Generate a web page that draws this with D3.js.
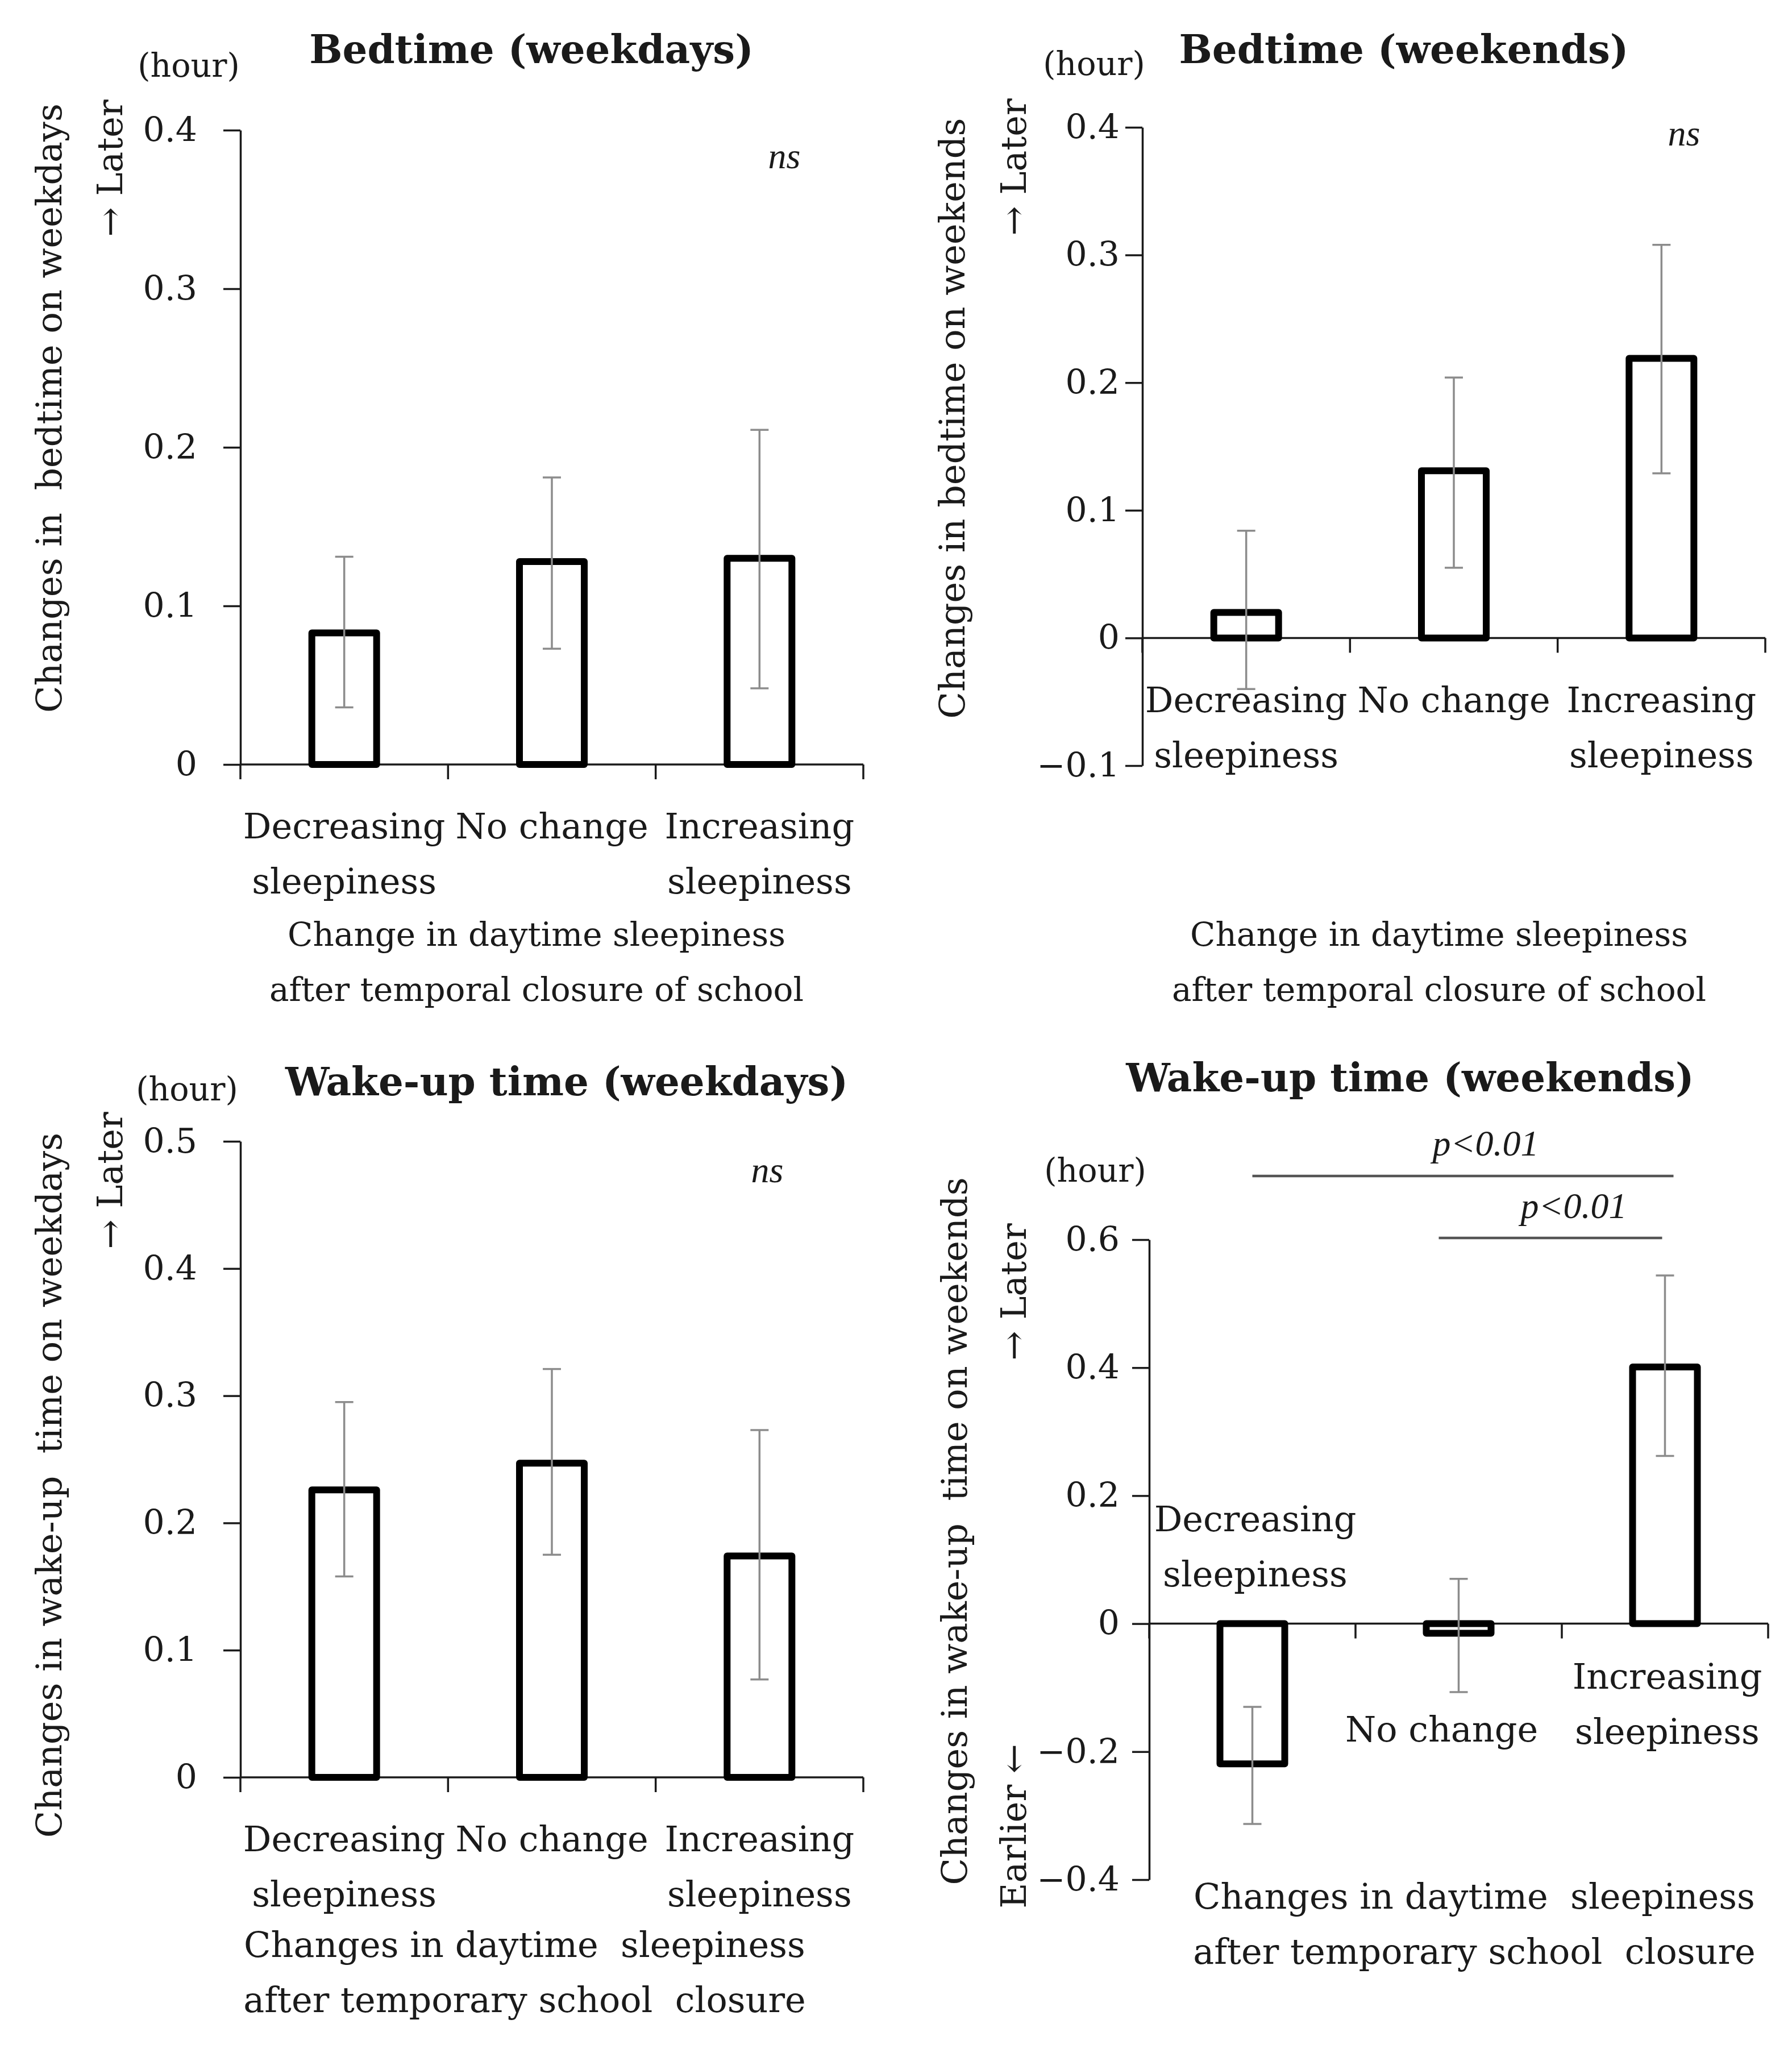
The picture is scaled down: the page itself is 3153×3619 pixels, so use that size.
<!DOCTYPE html>
<html>
<head>
<meta charset="utf-8">
<script src="https://cdn.jsdelivr.net/npm/d3@7"></script>
<style>
  body { margin: 0; background: #fff; }
  svg text { font-family: "DejaVu Serif", serif; fill: #1a1a1a; white-space: pre; }
  .title { font-weight: bold; font-size: 69px; }
  .hour { font-size: 57px; }
  .lab { font-size: 62px; }
  .xt { font-size: 58px; }
  .tick text { font-size: 60px; font-family: "DejaVu Serif", serif; }
  .ital { font-family: "Liberation Serif", serif; font-style: italic; font-size: 64px; }
</style>
</head>
<body>
<div id="chart"></div>
<script>
// ===============Data
var categories = ["Decreasing sleepiness", "No change", "Increasing sleepiness"];
var categoryLines = [["Decreasing", "sleepiness"], ["No change"], ["Increasing", "sleepiness"]];

var bedWeekdayMean = [0.083, 0.128, 0.130];
var bedWeekdayLow  = [0.036, 0.073, 0.048];
var bedWeekdayHigh = [0.131, 0.181, 0.211];

var bedWeekendMean = [0.020, 0.131, 0.219];
var bedWeekendLow  = [-0.040, 0.055, 0.129];
var bedWeekendHigh = [0.084, 0.204, 0.308];

var wakeWeekdayMean = [0.226, 0.247, 0.174];
var wakeWeekdayLow  = [0.158, 0.175, 0.077];
var wakeWeekdayHigh = [0.295, 0.321, 0.273];

var wakeWeekendMean = [-0.219, -0.015, 0.401];
var wakeWeekendLow  = [-0.313, -0.107, 0.262];
var wakeWeekendHigh = [-0.130, 0.070, 0.544];

var ticksBed = [0, 0.1, 0.2, 0.3, 0.4];
var ticksBedWeekend = [-0.1, 0, 0.1, 0.2, 0.3, 0.4];
var ticksWakeWeekday = [0, 0.1, 0.2, 0.3, 0.4, 0.5];
var ticksWakeWeekend = [-0.4, -0.2, 0, 0.2, 0.4, 0.6];

var titles = ["Bedtime (weekdays)", "Bedtime (weekends)", "Wake-up time (weekdays)", "Wake-up time (weekends)"];
var yLabels = ["Changes in  bedtime on weekdays", "Changes in bedtime on weekends",
               "Changes in wake-up  time on weekdays", "Changes in wake-up  time on weekends"];
var xTitlesTop = ["Change in daytime sleepiness", "after temporal closure of school"];
var xTitlesBottom = ["Changes in daytime  sleepiness", "after temporary school  closure"];
var sigLabels = ["p<0.01", "p<0.01"];

// ===========SVG container
var svgWidth = 3153, svgHeight = 3619;
var svg = d3.select("#chart").append("svg")
    .attr("width", svgWidth)
    .attr("height", svgHeight);

var fmt = function(d) { return d === 0 ? "0" : d3.format(".1f")(d); };

var panels = [
  { mean: bedWeekdayMean, low: bedWeekdayLow, high: bedWeekdayHigh, ticks: ticksBed,
    domain: [0, 0.4], yRange: [1345, 229], x0: 423, x1: 1519, pad: 46,
    title: [935, 111], hour: [332, 135], ns: [1380, 296],
    yLab: [108, 718], later: [215, 296], xTitle: xTitlesTop, xClass: "xt", xTitlePos: [944, 1664],
    catDy: [130, 130, 130], catDx: [0, 0, 0] },
  { mean: bedWeekendMean, low: bedWeekendLow, high: bedWeekendHigh, ticks: ticksBedWeekend,
    domain: [-0.1, 0.4], yRange: [1347, 224], x0: 2010, x1: 3106, pad: 10,
    title: [2470, 111], hour: [1925, 132], ns: [2963, 256],
    yLab: [1697, 736], later: [1805, 294], xTitle: xTitlesTop, xClass: "xt", xTitlePos: [2532, 1664],
    catDy: [131, 131, 131], catDx: [0, 0, 0] },
  { mean: wakeWeekdayMean, low: wakeWeekdayLow, high: wakeWeekdayHigh, ticks: ticksWakeWeekday,
    domain: [0, 0.5], yRange: [3127, 2008], x0: 423, x1: 1519, pad: 46,
    title: [997, 1927], hour: [329, 1936], ns: [1350, 2080],
    yLab: [108, 2613], later: [215, 2077], xTitle: xTitlesBottom, xClass: "lab", xTitlePos: [923, 3443],
    catDy: [130, 130, 130], catDx: [0, 0, 0] },
  { mean: wakeWeekendMean, low: wakeWeekendLow, high: wakeWeekendHigh, ticks: ticksWakeWeekend,
    domain: [-0.4, 0.6], yRange: [3307, 2181], x0: 2022, x1: 3111, pad: 22,
    title: [2481, 1920], hour: [1927, 2079], ns: null,
    yLab: [1701, 2694], later: [1805, 2273], earlier: [1805, 3213],
    xTitle: xTitlesBottom, xClass: "lab", xTitlePos: [2594, 3358],
    catDy: [-163, 207, 114], catDx: [5, -30, 4] }
];

panels.forEach(function(p, i) { drawPanel(p, i); });

function drawPanel(p, i) {
    var g = svg.append("g");

    var x = d3.scaleBand().domain(categories).range([p.x0, p.x1]).padding(0);
    var y = d3.scaleLinear().domain(p.domain).range(p.yRange);
    var bw = x.bandwidth();
    var barW = 114;
    var y0 = y(0);
    var cx = function(k) { return x(categories[k]) + bw / 2; };

    // y axis
    var leftAxis = d3.axisLeft(y)
        .tickValues(p.ticks)
        .tickSize(30)
        .tickSizeOuter(0)
        .tickPadding(p.pad)
        .tickFormat(fmt);
    var yAxis = g.append("g")
        .attr("transform", `translate(${p.x0},0)`)
        .call(leftAxis);
    yAxis.selectAll("path, line").attr("stroke", "#1a1a1a").attr("stroke-width", 3.5);
    yAxis.selectAll("text").attr("fill", "#1a1a1a");

    // x axis line + category boundary ticks
    g.append("line")
        .attr("x1", p.x0).attr("x2", p.x1)
        .attr("y1", y0).attr("y2", y0)
        .attr("stroke", "#1a1a1a").attr("stroke-width", 3.5);
    var bounds = categories.map(function(c) { return x(c); }).concat([x.range()[1]]);
    g.selectAll(".xtick").data(bounds).enter().append("line")
        .attr("x1", d => d).attr("x2", d => d)
        .attr("y1", y0).attr("y2", y0 + 26)
        .attr("stroke", "#1a1a1a").attr("stroke-width", 3.5);

    // category labels
    categories.forEach(function(c, k) {
        var tx = cx(k) + p.catDx[k];
        var t = g.append("text").attr("class", "lab")
            .attr("text-anchor", "middle")
            .attr("x", tx)
            .attr("y", y0 + p.catDy[k]);
        categoryLines[k].forEach(function(line, j) {
            t.append("tspan").attr("x", tx).attr("dy", j === 0 ? 0 : 97).text(line);
        });
    });

    // bars
    g.selectAll(".bar").data(p.mean).enter().append("rect")
        .attr("x", (d, k) => x(categories[k]) + (bw - barW) / 2)
        .attr("y", d => Math.min(y(d), y0))
        .attr("width", barW)
        .attr("height", d => Math.abs(y(d) - y0))
        .attr("fill", "#fff")
        .attr("stroke", "#000")
        .attr("stroke-width", 12)
        .attr("stroke-linejoin", "round");

    // error bars
    p.mean.forEach(function(m, k) {
        var eg = g.append("g").attr("stroke", "#8c8c8c").attr("stroke-width", 3.5);
        eg.append("line").attr("x1", cx(k)).attr("x2", cx(k))
            .attr("y1", y(p.low[k])).attr("y2", y(p.high[k]));
        [p.low[k], p.high[k]].forEach(function(v) {
            eg.append("line").attr("x1", cx(k) - 16).attr("x2", cx(k) + 16)
                .attr("y1", y(v)).attr("y2", y(v));
        });
    });

    // titles and labels
    g.append("text").attr("class", "title").attr("text-anchor", "middle")
        .attr("x", p.title[0]).attr("y", p.title[1]).text(titles[i]);
    g.append("text").attr("class", "hour").attr("text-anchor", "middle")
        .attr("x", p.hour[0]).attr("y", p.hour[1]).text("(hour)");
    if (p.ns) {
        g.append("text").attr("class", "ital").attr("text-anchor", "middle")
            .attr("x", p.ns[0]).attr("y", p.ns[1]).text("ns");
    }
    g.append("text").attr("class", "lab").attr("text-anchor", "middle")
        .attr("transform", `translate(${p.yLab[0]},${p.yLab[1]}) rotate(-90)`)
        .text(yLabels[i]);
    g.append("text").attr("class", "lab").attr("text-anchor", "middle")
        .attr("transform", `translate(${p.later[0]},${p.later[1]}) rotate(-90)`)
        .text("\u2192 Later");
    if (p.earlier) {
        g.append("text").attr("class", "lab").attr("text-anchor", "middle")
            .attr("transform", `translate(${p.earlier[0]},${p.earlier[1]}) rotate(-90)`)
            .text("Earlier \u2190");
    }
    p.xTitle.forEach(function(line, j) {
        g.append("text").attr("class", p.xClass).attr("text-anchor", "middle")
            .attr("x", p.xTitlePos[0]).attr("y", p.xTitlePos[1] + j * 97)
            .text(line);
    });

    // significance brackets (wake-up weekends only)
    if (i === 3) {
        var sig = [
            { y: 2069, lx: 2614, ly: 2033, x1: cx(0), x2: cx(2) + 15 },
            { y: 2178, lx: 2769, ly: 2143, x1: cx(1) - 35, x2: cx(2) - 5 }
        ];
        sig.forEach(function(s, k) {
            g.append("line").attr("x1", s.x1).attr("x2", s.x2)
                .attr("y1", s.y).attr("y2", s.y)
                .attr("stroke", "#555").attr("stroke-width", 4.5);
            g.append("text").attr("class", "ital").attr("text-anchor", "middle")
                .attr("x", s.lx).attr("y", s.ly).text(sigLabels[k]);
        });
    }
}
</script>
</body>
</html>
